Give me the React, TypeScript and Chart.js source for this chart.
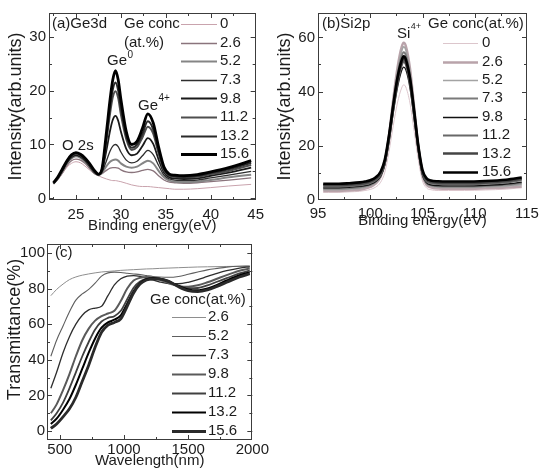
import React, { useEffect, useRef } from 'react';
import { Chart, registerables } from 'chart.js';

Chart.register(...registerables);

const FONT_FAMILY = 'Arial, "Liberation Sans", Helvetica, sans-serif';
const TEXT = '#1c1c1c';

// ---------------- Panel (a) Ge3d ----------------
const GE_CONC = ['0', '2.6', '5.2', '7.3', '9.8', '11.2', '13.2', '15.6'];
const A_ENERGY = [22.5, 23, 23.5, 24, 24.5, 25, 25.5, 26, 26.5, 27, 27.5, 27.9, 28.4, 28.8, 29.1, 29.4, 29.7, 30.0, 30.6, 31.2, 31.8, 32.4, 33.0, 33.6, 34.2, 34.8, 35.4, 36, 37, 38.5, 40, 42, 44.5];
const A_GE_0 = [2.7, 3.5, 4.6, 5.8, 6.5, 6.8, 6.6, 6.0, 5.3, 4.6, 4.2, 3.9, 3.6, 3.4, 3.3, 3.3, 3.2, 3.1, 2.8, 2.5, 2.3, 2.2, 2.2, 2.1, 2.0, 1.9, 1.8, 1.7, 1.7, 1.8, 2.0, 2.3, 2.6];
const A_GE_26 = [2.7, 3.6, 4.8, 6.1, 7.0, 7.3, 7.1, 6.5, 5.6, 4.7, 4.3, 4.6, 5.2, 5.6, 5.7, 5.7, 5.6, 5.3, 4.9, 4.8, 4.9, 5.2, 5.4, 5.1, 4.2, 3.4, 3.0, 2.9, 2.8, 2.9, 3.1, 3.4, 3.8];
const A_GE_52 = [2.7, 3.7, 5.0, 6.5, 7.4, 7.8, 7.5, 6.8, 5.9, 4.8, 4.3, 4.8, 6.0, 6.8, 7.1, 7.2, 7.0, 6.5, 5.9, 5.7, 5.9, 6.5, 7.0, 6.5, 5.1, 3.9, 3.3, 3.1, 3.0, 3.1, 3.4, 3.9, 4.4];
const A_GE_73 = [2.8, 3.8, 5.1, 6.6, 7.6, 8.0, 7.7, 7.0, 6.0, 4.9, 4.4, 4.9, 7.0, 8.8, 9.7, 10.0, 9.6, 8.6, 7.1, 6.6, 6.9, 7.9, 8.9, 8.1, 6.1, 4.3, 3.6, 3.4, 3.3, 3.4, 3.8, 4.3, 5.0];
const A_GE_98 = [2.8, 3.8, 5.2, 6.7, 7.7, 8.1, 7.8, 7.1, 6.1, 5.0, 4.4, 5.1, 9.0, 12.6, 14.6, 15.3, 14.4, 12.4, 9.2, 8.0, 8.3, 9.7, 11.2, 10.1, 7.2, 4.8, 3.9, 3.7, 3.6, 3.7, 4.2, 4.8, 5.7];
const A_GE_112 = [2.8, 3.9, 5.3, 6.8, 7.9, 8.3, 8.0, 7.3, 6.3, 5.1, 4.4, 5.3, 10.8, 15.8, 18.8, 19.9, 18.6, 15.6, 11.0, 9.0, 9.5, 11.3, 13.3, 12.0, 8.3, 5.2, 4.2, 4.0, 3.9, 4.0, 4.5, 5.1, 6.2];
const A_GE_132 = [2.9, 3.9, 5.4, 6.9, 8.0, 8.4, 8.1, 7.4, 6.4, 5.2, 4.5, 5.4, 11.5, 17.0, 20.2, 21.5, 20.0, 16.8, 11.6, 9.4, 10.0, 12.0, 14.3, 12.8, 8.8, 5.5, 4.3, 4.1, 4.0, 4.2, 4.7, 5.4, 6.6];
const A_GE_156 = [2.9, 4.0, 5.5, 7.0, 8.1, 8.5, 8.2, 7.5, 6.5, 5.3, 4.5, 5.5, 12.4, 18.4, 22.0, 23.7, 22.0, 18.4, 12.4, 10.0, 10.6, 13.0, 15.7, 14.0, 9.5, 5.8, 4.5, 4.3, 4.2, 4.4, 4.9, 5.7, 7.0];
const A_X_TICKS = [22.5, 25, 27.5, 30, 32.5, 35, 37.5, 40, 42.5, 45];
const A_X_LABELS = [25, 30, 35, 40, 45];
const A_Y_TICKS = [0, 5, 10, 15, 20, 25, 30];
const A_Y_LABELS = [0, 10, 20, 30];

// ---------------- Panel (b) Si2p ----------------
const B_ENERGY = [95.5, 96, 97, 98, 99, 99.5, 100, 100.5, 101, 101.4, 101.8, 102.2, 102.6, 103.0, 103.2, 103.4, 103.8, 104.2, 104.6, 105.0, 105.4, 105.8, 106.5, 107.5, 109, 111, 113, 114.5];
const B_GE_0 = [2.8, 2.8, 2.8, 3.0, 3.2, 3.5, 3.9, 4.7, 6.6, 10.3, 17.9, 27.4, 35.8, 41.3, 42.5, 41.7, 35.8, 25.4, 14.7, 7.0, 4.4, 3.8, 3.5, 3.5, 3.5, 3.7, 4.0, 4.5];
const B_GE_26 = [3.3, 3.3, 3.3, 3.5, 3.8, 4.2, 4.8, 6.0, 8.6, 13.7, 24.1, 37.2, 48.7, 56.4, 58.0, 56.9, 48.7, 34.5, 19.7, 9.1, 5.5, 4.7, 4.2, 4.1, 4.1, 4.3, 4.6, 5.0];
const B_GE_52 = [3.8, 3.8, 3.8, 4.0, 4.3, 4.7, 5.3, 6.4, 8.9, 13.8, 23.8, 36.5, 47.5, 54.9, 56.5, 55.4, 47.5, 33.8, 19.6, 9.4, 5.9, 5.2, 4.7, 4.6, 4.6, 4.8, 5.1, 5.6];
const B_GE_73 = [4.2, 4.2, 4.2, 4.4, 4.7, 5.1, 5.6, 6.7, 9.0, 13.8, 23.3, 35.4, 45.9, 53.0, 54.5, 53.5, 45.9, 32.9, 19.3, 9.5, 6.2, 5.5, 5.1, 5.0, 5.0, 5.2, 5.6, 6.2];
const B_GE_98 = [4.5, 4.5, 4.5, 4.7, 5.0, 5.3, 5.8, 6.7, 8.8, 13.0, 21.4, 32.1, 41.4, 47.7, 49.0, 48.1, 41.4, 29.9, 17.9, 9.2, 6.3, 5.6, 5.3, 5.2, 5.2, 5.4, 5.9, 6.6];
const B_GE_112 = [5.0, 5.0, 5.0, 5.2, 5.5, 5.8, 6.3, 7.3, 9.4, 13.7, 22.5, 33.5, 43.2, 49.6, 51.0, 50.1, 43.2, 31.2, 18.8, 9.9, 6.9, 6.2, 5.9, 5.8, 5.8, 6.0, 6.5, 7.3];
const B_GE_132 = [5.5, 5.5, 5.5, 5.7, 6.0, 6.3, 6.8, 7.8, 10.0, 14.3, 23.2, 34.3, 44.1, 50.6, 52.0, 51.0, 44.1, 32.0, 19.4, 10.4, 7.4, 6.7, 6.4, 6.3, 6.3, 6.5, 7.0, 7.8];
const B_GE_156 = [6.0, 6.0, 6.0, 6.2, 6.5, 6.8, 7.3, 8.3, 10.5, 15.0, 24.0, 35.0, 45.0, 51.5, 53.0, 52.0, 45.0, 33.0, 20.0, 11.0, 8.0, 7.2, 6.9, 6.8, 6.8, 7.0, 7.5, 8.3];
const B_X_TICKS = [95, 97.5, 100, 102.5, 105, 107.5, 110, 112.5, 115];
const B_X_LABELS = [95, 100, 105, 110, 115];
const B_Y_TICKS = [0, 10, 20, 30, 40, 50, 60];
const B_Y_LABELS = [0, 20, 40, 60];

// ---------------- Panel (c) Transmittance ----------------
const GE_CONC_C = ['2.6', '5.2', '7.3', '9.8', '11.2', '13.2', '15.6'];
const C_WAVELENGTH = [430, 475, 525, 575, 625, 675, 725, 775, 825, 875, 925, 975, 1025, 1075, 1125, 1175, 1225, 1275, 1350, 1425, 1500, 1575, 1650, 1725, 1800, 1900, 1980];
const C_GE_26 = [76, 79.5, 82.5, 85, 86.5, 87.5, 88.2, 88.8, 89.3, 89.6, 89.9, 90.2, 90.4, 90.6, 90.8, 91, 91.1, 91.3, 91.5, 91.7, 91.9, 92.1, 92.2, 92.3, 92.4, 92.5, 92.5];
const C_GE_52 = [42, 51, 59, 67, 73.5, 77, 79.5, 83, 87, 88.8, 89.2, 89, 88.6, 88.2, 87.8, 87.3, 86.8, 86.5, 86.3, 86.8, 88, 89.3, 90.5, 91.3, 92, 92.5, 92.6];
const C_GE_73 = [24, 33, 44, 53, 60, 65, 68, 69, 70, 76, 82, 85.5, 87, 87.3, 86.8, 85.8, 84.8, 83.8, 82.8, 82.7, 83.5, 85, 86.8, 88.5, 90, 91.5, 92.2];
const C_GE_98 = [10, 15, 23, 32, 42, 51, 57.5, 62, 64.5, 66, 67.5, 73, 80, 84.5, 86, 86.5, 86, 85, 83, 81.5, 81, 81.8, 83.5, 85.5, 87.5, 90, 91.2];
const C_GE_112 = [6, 10, 16, 24, 33, 42, 50, 57, 61.5, 63.5, 64.5, 67.5, 74, 80.5, 84, 85.5, 86, 85.5, 83.5, 81.5, 80.2, 80.3, 81.8, 83.8, 85.8, 88.5, 90];
const C_GE_132 = [4, 7, 12, 18, 26, 35, 44, 52, 58, 61, 62.5, 65, 71.5, 78.5, 83, 85.2, 85.8, 85.7, 84, 81.5, 79.5, 79, 80, 82, 84.5, 87.5, 89];
const C_GE_156 = [1.5, 4, 8, 12.5, 19, 28, 37, 47, 55.5, 59.5, 61, 63, 70, 77.5, 82.5, 84.8, 85.3, 85.3, 84, 81, 78.8, 78.3, 79.2, 81.2, 83.5, 86.5, 88.3];
const C_X_TICKS = [500, 750, 1000, 1250, 1500, 1750, 2000];
const C_X_LABELS = [500, 1000, 1500, 2000];
const C_Y_TICKS = [0, 10, 20, 30, 40, 50, 60, 70, 80, 90, 100];
const C_Y_LABELS = [0, 20, 40, 60, 80, 100];

// styles
const A_COLORS = ['#c9a3ad', '#8a747c', '#858585', '#2e2e2e', '#1a1a1a', '#4e4e4e', '#2a2a2a', '#000000'];
const A_WIDTHS = [1, 1.3, 2, 1.3, 1.8, 2, 2, 2.8];
const B_COLORS = ['#dcc6cc', '#b9a3aa', '#a3a3a3', '#7a7a7a', '#111111', '#686868', '#444444', '#000000'];
const B_WIDTHS = [1, 2.4, 1.6, 2, 1.3, 2.2, 2.5, 2.6];
const C_COLORS = ['#8e8e8e', '#5e5e5e', '#2e2e2e', '#5a5a5a', '#404040', '#000000', '#2a2a2a'];
const C_WIDTHS = [1, 1.1, 1.3, 2, 1.8, 2, 2.8];

const sameVal = (a: number, b: number) => Math.abs(a - b) < 1e-6;

const framePlugin = {
  id: 'frame',
  afterDatasetsDraw(chart: any) {
    const { ctx, chartArea: ca } = chart;
    ctx.save();
    ctx.strokeStyle = '#3c3c3c';
    ctx.lineWidth = 1;
    ctx.strokeRect(Math.round(ca.left) + 0.5, Math.round(ca.top) + 0.5, Math.round(ca.right - ca.left) - 1, Math.round(ca.bottom - ca.top) - 1);
    ctx.beginPath();
    const xs = chart.scales.x;
    const ys = chart.scales.y;
    xs.ticks.forEach((t: any) => {
      const p = Math.round(xs.getPixelForValue(t.value)) + 0.5;
      if (p <= ca.left + 1 || p >= ca.right - 1) return;
      const len = t.label ? 5 : 3;
      ctx.moveTo(p, ca.bottom);
      ctx.lineTo(p, ca.bottom - len);
      ctx.moveTo(p, ca.top);
      ctx.lineTo(p, ca.top + len);
    });
    ys.ticks.forEach((t: any) => {
      const p = Math.round(ys.getPixelForValue(t.value)) + 0.5;
      if (p <= ca.top + 1 || p >= ca.bottom - 1) return;
      const len = t.label ? 5 : 3;
      ctx.moveTo(ca.left, p);
      ctx.lineTo(ca.left + len, p);
      ctx.moveTo(ca.right, p);
      ctx.lineTo(ca.right - len, p);
    });
    ctx.stroke();
    ctx.restore();
  },
  afterDraw(chart: any, _args: any, opts: any) {
    const { ctx } = chart;
    ctx.save();
    ctx.fillStyle = TEXT;
    ctx.textBaseline = 'middle';
    ctx.textAlign = 'left';
    const font = (s: number) => `${s}px ${FONT_FAMILY}`;
    (opts.notes || []).forEach((n: any) => {
      ctx.font = font(n.size || 15);
      ctx.fillText(n.text, n.x, n.y);
      if (n.sup) {
        const w = ctx.measureText(n.text).width;
        ctx.font = font(n.supSize || 10);
        ctx.fillText(n.sup, n.x + w + 0.5, n.y - (n.supRaise || 6));
      }
    });
    const lg = opts.legend;
    if (lg) {
      ctx.font = font(lg.size || 15);
      (lg.header || []).forEach((h: any) => ctx.fillText(h.text, h.x, h.y));
      chart.data.datasets.forEach((ds: any, i: number) => {
        const y = lg.y0 + i * lg.dy;
        ctx.strokeStyle = ds.borderColor;
        ctx.lineWidth = ds.borderWidth;
        ctx.beginPath();
        ctx.moveTo(lg.x0, Math.round(y) + 0.5);
        ctx.lineTo(lg.x1, Math.round(y) + 0.5);
        ctx.stroke();
        ctx.fillStyle = TEXT;
        ctx.fillText(ds.label, lg.textX, y);
      });
    }
    ctx.restore();
  },
};

function axis(o: any) {
  return {
    type: 'linear',
    position: o.position,
    min: o.min,
    max: o.max,
    bounds: 'data',
    grid: { display: false, drawTicks: false },
    border: { display: false },
    afterBuildTicks: (scale: any) => {
      scale.ticks = o.ticks.map((v: number) => ({ value: v }));
    },
    afterFit: (scale: any) => {
      if (o.position === 'left') scale.width = o.size;
      else scale.height = o.size;
    },
    ticks: {
      autoSkip: false,
      maxRotation: 0,
      minRotation: 0,
      padding: o.tickPad,
      color: TEXT,
      font: { family: FONT_FAMILY, size: 15 },
      callback: (v: number) => (o.labels.some((l: number) => sameVal(l, v)) ? String(v) : ''),
    },
    title: {
      display: true,
      text: o.title,
      color: TEXT,
      font: { family: FONT_FAMILY, size: o.titleSize || 15 },
      padding: o.titlePad,
    },
  };
}

function makeConfig(p: any) {
  return {
    type: 'line',
    data: {
      datasets: p.series.map((s: number[], i: number) => ({
        label: p.labels[i],
        data: p.xs.map((x: number, j: number) => ({ x, y: s[j] })),
        borderColor: p.colors[i],
        borderWidth: p.widths[i],
        pointRadius: 0,
        fill: false,
        cubicInterpolationMode: 'monotone',
        order: -i,
      })),
    },
    options: {
      animation: false,
      responsive: false,
      maintainAspectRatio: false,
      events: [],
      layout: { padding: p.padding },
      plugins: {
        legend: { display: false },
        tooltip: { enabled: false },
        frame: { legend: p.legend, notes: p.notes },
      },
      scales: { x: axis(p.x), y: axis(p.y) },
    },
    plugins: [framePlugin],
  };
}

const PANELS = [
  {
    box: { left: 0, top: 0, width: 270, height: 235 },
    xs: A_ENERGY,
    series: [A_GE_0, A_GE_26, A_GE_52, A_GE_73, A_GE_98, A_GE_112, A_GE_132, A_GE_156],
    labels: GE_CONC,
    colors: A_COLORS,
    widths: A_WIDTHS,
    padding: { left: 0, top: 13, right: 13, bottom: 0 },
    x: { position: 'bottom', min: 22, max: 45, ticks: A_X_TICKS, labels: A_X_LABELS, size: 35, tickPad: 6, title: 'Binding energy(eV)', titlePad: { top: 0, bottom: 0 } },
    y: { position: 'left', min: -0.3, max: 34.4, ticks: A_Y_TICKS, labels: A_Y_LABELS, size: 49, tickPad: 3, title: 'Intensity(arb.units)', titleSize: 18, titlePad: { top: 5, bottom: 0 } },
    legend: { header: [{ text: 'Ge conc', x: 124, y: 24 }, { text: '(at.%)', x: 124, y: 43 }], x0: 181, x1: 217, textX: 220, y0: 24, dy: 18.6 },
    notes: [
      { text: '(a)Ge3d', x: 52, y: 24 },
      { text: 'Ge', sup: '0', x: 107, y: 61 },
      { text: 'Ge', sup: '4+', x: 138, y: 106, supRaise: 8 },
      { text: 'O 2s', x: 62, y: 146 },
    ],
  },
  {
    box: { left: 270, top: 0, width: 274, height: 235 },
    xs: B_ENERGY,
    series: [B_GE_0, B_GE_26, B_GE_52, B_GE_73, B_GE_98, B_GE_112, B_GE_132, B_GE_156],
    labels: GE_CONC,
    colors: B_COLORS,
    widths: B_WIDTHS,
    padding: { left: 0, top: 13, right: 17, bottom: 0 },
    x: { position: 'bottom', min: 95, max: 115, ticks: B_X_TICKS, labels: B_X_LABELS, size: 35, tickPad: 5, title: 'Binding energy(eV)', titlePad: { top: 0, bottom: 5 } },
    y: { position: 'left', min: 0, max: 69, ticks: B_Y_TICKS, labels: B_Y_LABELS, size: 48, tickPad: 3, title: 'Intensity(arb.units)', titleSize: 18, titlePad: { top: 4, bottom: 0 } },
    legend: { header: [{ text: 'Ge conc(at.%)', x: 158, y: 24 }], x0: 173, x1: 208, textX: 212, y0: 43.3, dy: 18.35 },
    notes: [
      { text: '(b)Si2p', x: 52, y: 24 },
      { text: 'Si', sup: '4+', x: 127, y: 34, supSize: 9, supRaise: 7 },
    ],
  },
  {
    box: { left: 0, top: 232, width: 270, height: 238 },
    xs: C_WAVELENGTH,
    series: [C_GE_26, C_GE_52, C_GE_73, C_GE_98, C_GE_112, C_GE_132, C_GE_156],
    labels: GE_CONC_C,
    colors: C_COLORS,
    widths: C_WIDTHS,
    padding: { left: 0, top: 12, right: 13, bottom: 0 },
    x: { position: 'bottom', min: 400, max: 2000, ticks: C_X_TICKS, labels: C_X_LABELS, size: 30, tickPad: 1, title: 'Wavelength(nm)', titlePad: { top: 0, bottom: 0 } },
    y: { position: 'left', min: -5, max: 105, ticks: C_Y_TICKS, labels: C_Y_LABELS, size: 47, tickPad: 2, title: '     Transmittance(%)', titleSize: 18, titlePad: { top: 4, bottom: 0 } },
    legend: { header: [{ text: 'Ge conc(at.%)', x: 150, y: 68 }], x0: 172, x1: 206, textX: 208, y0: 84.7, dy: 19.1 },
    notes: [{ text: '(c)', x: 55, y: 21 }],
  },
];

function Panel({ spec }: { spec: any }) {
  const ref = useRef<HTMLCanvasElement | null>(null);
  useEffect(() => {
    if (!ref.current) return;
    const chart = new Chart(ref.current, makeConfig(spec) as any);
    return () => chart.destroy();
  }, [spec]);
  const b = spec.box;
  return (
    <canvas
      ref={ref}
      width={b.width}
      height={b.height}
      style={{ position: 'absolute', left: b.left, top: b.top, width: b.width, height: b.height }}
    />
  );
}

export default function App() {
  return (
    <div style={{ position: 'absolute', left: 0, top: 0, width: 544, height: 470, background: '#fff' }}>
      {PANELS.map((p, i) => (
        <Panel key={i} spec={p} />
      ))}
    </div>
  );
}
